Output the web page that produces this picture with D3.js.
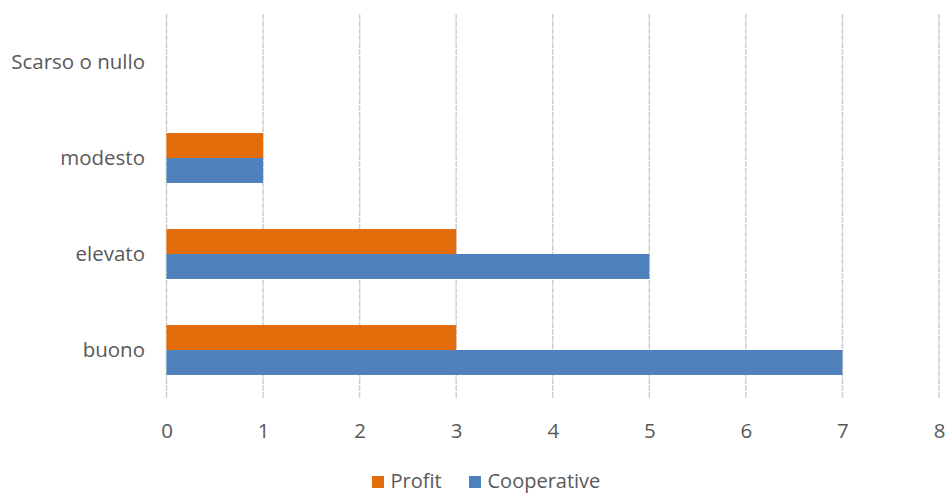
<!DOCTYPE html>
<html>
<head>
<meta charset="utf-8">
<script src="https://cdn.jsdelivr.net/npm/d3@7"></script>
<style>
  body { margin: 0; background: #fff; }
  svg { display: block; }
  text { font-family: "Open Sans", Lato, sans-serif; fill: #595959; }
</style>
</head>
<body>
<svg id="chart" width="945" height="494"></svg>
<script>
// Categories, top to bottom
const categories = ["Scarso o nullo", "modesto", "elevato", "buono"];
const seriesNames = ["Profit", "Cooperative"];
const profit = [0, 1, 3, 3];
const cooperative = [0, 1, 5, 7];
const xTicks = [0, 1, 2, 3, 4, 5, 6, 7, 8];
const colors = { Profit: "#E36C0A", Cooperative: "#4F81BD" };

const svg = d3.select("#chart");
const plotLeft = 166.5, plotRight = 939, plotTop = 14, plotBottom = 398;
const fontSize = "20.5px";

const x = d3.scaleLinear().domain([0, 8]).range([plotLeft, plotRight]);
const y = d3.scaleBand().domain(categories).range([plotTop, plotBottom])
  .paddingInner(0.48).paddingOuter(0.24);
const ySub = d3.scaleBand().domain(seriesNames).range([0, y.bandwidth()]);

// vertical gridlines
svg.append("g").selectAll("line").data(xTicks).join("line")
  .attr("x1", d => x(d)).attr("x2", d => x(d))
  .attr("y1", plotTop).attr("y2", plotBottom)
  .attr("stroke", "#cfcfcf").attr("stroke-width", 1.5)
  .attr("stroke-dasharray", "6,1");

// bars
const rows = categories.map((c, i) => ({ cat: c, values: [
  { name: "Profit", v: profit[i] }, { name: "Cooperative", v: cooperative[i] }] }));
const g = svg.append("g").selectAll("g").data(rows).join("g")
  .attr("transform", d => `translate(0,${y(d.cat)})`);
g.selectAll("rect").data(d => d.values.filter(s => s.v > 0)).join("rect")
  .attr("x", x(0))
  .attr("y", d => ySub(d.name))
  .attr("width", d => x(d.v) - x(0))
  .attr("height", ySub.bandwidth())
  .attr("fill", d => colors[d.name]);

// x axis labels
const xAxis = svg.append("g").attr("transform", `translate(0,${plotBottom})`)
  .call(d3.axisBottom(x).tickValues(xTicks).tickSize(0).tickPadding(25).tickFormat(d3.format("d")));
xAxis.select(".domain").remove();
xAxis.selectAll("text").style("font-size", fontSize).attr("fill", "#595959")
  .style("font-family", "'Open Sans', sans-serif");

// y axis labels
const yAxis = svg.append("g").attr("transform", `translate(${plotLeft},0)`)
  .call(d3.axisLeft(y).tickSize(0).tickPadding(21.5));
yAxis.select(".domain").remove();
yAxis.selectAll("text").style("font-size", fontSize).attr("fill", "#595959")
  .style("font-family", "'Open Sans', sans-serif");

// legend
const legend = svg.append("g");
const legendItems = [{ name: "Profit", x: 372 }, { name: "Cooperative", x: 469 }];
legend.selectAll("rect").data(legendItems).join("rect")
  .attr("x", d => d.x).attr("y", 476).attr("width", 12).attr("height", 12)
  .attr("fill", d => colors[d.name]);
legend.selectAll("text").data(legendItems).join("text")
  .attr("x", d => d.x + 18.5).attr("y", 488)
  .style("font-size", "20px")
  .text(d => d.name);
</script>
</body>
</html>
